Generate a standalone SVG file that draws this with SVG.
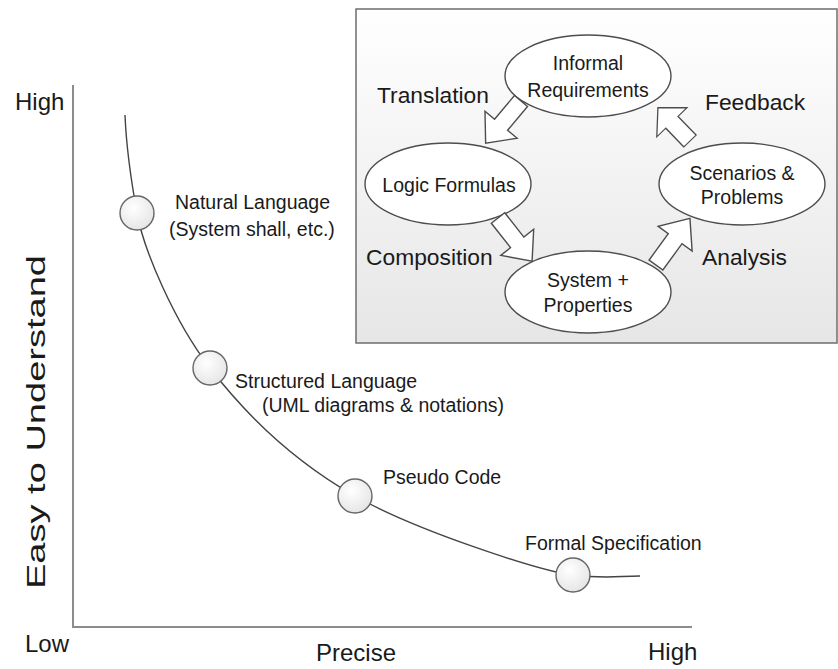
<svg xmlns="http://www.w3.org/2000/svg" width="838" height="669" viewBox="0 0 838 669">
<defs>
<linearGradient id="boxg" x1="0" y1="0" x2="0" y2="1">
<stop offset="0" stop-color="#ffffff"/>
<stop offset="1" stop-color="#e6e6e6"/>
</linearGradient>
<radialGradient id="dotg" cx="0.4" cy="0.35" r="0.7">
<stop offset="0" stop-color="#ffffff"/>
<stop offset="1" stop-color="#e4e4e4"/>
</radialGradient>
<polygon id="barrow" points="0,-8.5 31,-8.5 31,-21 55,0 31,21 31,8.5 0,8.5"/>
</defs>
<style>
text{font-family:"Liberation Sans",Arial,sans-serif;fill:#1a1a1a}
.big{font-size:24px}
.lbl{font-size:22.8px}
.node{font-size:19.5px;text-anchor:middle}
.pt{font-size:19.5px}
.ell{fill:#ffffff;stroke:#4d4d4d;stroke-width:1.4}
.arr{fill:#ffffff;stroke:#4d4d4d;stroke-width:1.4;stroke-linejoin:miter}
.axis{fill:none;stroke:#8c8c8c;stroke-width:2}
.curve{fill:none;stroke:#444;stroke-width:1.4}
.dot{fill:url(#dotg);stroke:#666;stroke-width:1.4}
</style>
<rect width="838" height="669" fill="#ffffff"/>

<g id="chart">
<line class="axis" x1="73" y1="85" x2="73" y2="627"/>
<line class="axis" x1="72" y1="627" x2="692" y2="627"/>
<text class="big" x="15" y="110">High</text>
<text class="big" x="25" y="652">Low</text>
<text class="big" x="316" y="661">Precise</text>
<text class="big" x="648" y="660">High</text>
<text class="big" transform="translate(45,422) rotate(-90)" text-anchor="middle" textLength="334" lengthAdjust="spacingAndGlyphs" style="font-size:26px">Easy to Understand</text>
<path class="curve" d="M125,115 C126,140 130.3,176.3 137,213 C143.7,249.7 173.7,320.8 210,368 C246.3,415.2 294.5,461.5 355,496 C415.5,530.5 539.7,571 573,575 C606.3,579 618,576 640,576"/>
</g>

<g id="natural-language">
<circle class="dot" cx="137" cy="213" r="17"/>
<text class="pt" x="175" y="209">Natural Language</text>
<text class="pt" x="169" y="236">(System shall, etc.)</text>
</g>
<g id="structured-language">
<circle class="dot" cx="210" cy="368" r="17"/>
<text class="pt" x="235" y="388">Structured Language</text>
<text class="pt" x="262" y="412">(UML diagrams &amp; notations)</text>
</g>
<g id="pseudo-code">
<circle class="dot" cx="355" cy="496" r="17"/>
<text class="pt" x="383" y="484">Pseudo Code</text>
</g>
<g id="formal-specification">
<circle class="dot" cx="573" cy="575" r="17"/>
<text class="pt" x="525" y="550">Formal Specification</text>
</g>

<g id="process-box">
<rect x="356" y="9" width="481" height="334" fill="url(#boxg)" stroke="#6e6e6e" stroke-width="1.5"/>
</g>

<g id="informal-requirements">
<ellipse class="ell" cx="588" cy="76" rx="83" ry="41"/>
<text class="node" x="588" y="70">Informal</text>
<text class="node" x="588" y="97">Requirements</text>
</g>
<g id="logic-formulas">
<ellipse class="ell" cx="448" cy="184" rx="83" ry="41"/>
<text class="node" x="449" y="192">Logic Formulas</text>
</g>
<g id="scenarios-problems">
<ellipse class="ell" cx="742" cy="184" rx="83" ry="41"/>
<text class="node" x="742" y="180">Scenarios &amp;</text>
<text class="node" x="742" y="204">Problems</text>
</g>
<g id="system-properties">
<ellipse class="ell" cx="588" cy="292" rx="83" ry="41"/>
<text class="node" x="588" y="287">System +</text>
<text class="node" x="588" y="312">Properties</text>
</g>

<g id="connectors">
<use href="#barrow" class="arr" transform="translate(521,101) rotate(130)"/>
<use href="#barrow" class="arr" transform="translate(498,218) rotate(51.7)"/>
<use href="#barrow" class="arr" transform="translate(656,265) rotate(-54) scale(1.05,1)"/>
<use href="#barrow" class="arr" transform="translate(690,141) rotate(-134) scale(0.84,1)"/>
<text class="lbl" x="377" y="103">Translation</text>
<text class="lbl" x="366" y="265">Composition</text>
<text class="lbl" x="702" y="265">Analysis</text>
<text class="lbl" x="705" y="110">Feedback</text>
</g>
</svg>
